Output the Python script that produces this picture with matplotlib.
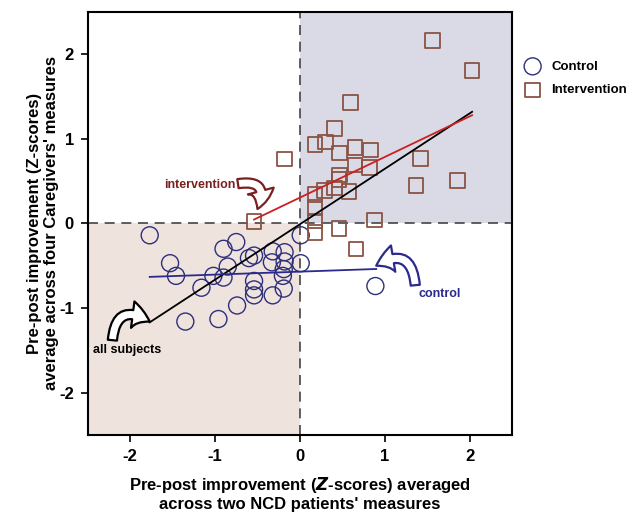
import numpy as np
import matplotlib.pyplot as plt
from matplotlib.patches import FancyArrowPatch

plt.rcParams['font.family'] = ['Liberation Sans', 'DejaVu Sans']
plt.rcParams['axes.unicode_minus'] = False

# Control group: x = NCD patients' improvement, y = caregivers' improvement
control_x = [-1.77, -1.53, -1.46, -0.90, -0.75, -0.85, -1.02, -0.90, -1.16, -0.60,
             -0.54, -0.32, -0.33, -0.18, -0.18, -0.19, -0.20, 0.01, 0.01, -0.54,
             -0.54, -0.54, -0.32, -0.19, -0.74, -0.96, -1.35, 0.89]
control_y = [-0.14, -0.47, -0.62, -0.30, -0.22, -0.51, -0.62, -0.64, -0.76, -0.41,
             -0.38, -0.33, -0.46, -0.34, -0.45, -0.54, -0.62, -0.47, -0.14, -0.68,
             -0.78, -0.85, -0.85, -0.77, -0.97, -1.13, -1.16, -0.74]

# Intervention group
interv_x = [1.56, 2.03, 0.60, 0.41, 0.18, 0.30, 0.47, 0.65, 0.83, 1.42,
            -0.18, 0.65, 0.82, 0.47, 0.46, 1.86, 1.37, 0.29, 0.41, 0.58,
            0.18, 0.18, 0.18, 0.18, -0.54, 0.88, 0.46, 0.66]
interv_y = [2.16, 1.81, 1.43, 1.12, 0.93, 0.96, 0.83, 0.90, 0.87, 0.77,
            0.76, 0.69, 0.66, 0.57, 0.52, 0.51, 0.45, 0.39, 0.42, 0.38,
            0.34, 0.19, 0.03, -0.11, 0.02, 0.04, -0.06, -0.30]

# fitted lines: (x start, x end, slope, intercept)
fit_all = (-1.77, 2.03, 0.655, -0.01)
fit_control = (-1.77, 0.90, 0.035, -0.57)
fit_interv = (-0.54, 2.03, 0.48, 0.305)

ticks = [-2, -1, 0, 1, 2]

fig = plt.figure(figsize=(6.36, 5.19), dpi=100)
ax = fig.add_axes([0.138, 0.162, 0.667, 0.815])
ax.set_xlim(-2.5, 2.5)
ax.set_ylim(-2.5, 2.5)

# shaded quadrants
ax.axvspan(-2.5, 0, ymin=0, ymax=0.5, color='#efe3de', zorder=0, lw=0)
ax.axvspan(0, 2.5, ymin=0.5, ymax=1, color='#dad9e6', zorder=0, lw=0)
ax.axhline(0, color='#444444', ls=(0, (6, 4)), lw=1.2, zorder=1)
ax.axvline(0, color='#444444', ls=(0, (6, 4)), lw=1.2, zorder=1)

ax.scatter(control_x, control_y, s=150, marker='o', facecolors='none',
           edgecolors='#2e2f7a', linewidths=1.0, zorder=3, label='Control')
ax.scatter(interv_x, interv_y, s=110, marker='s', facecolors='none',
           edgecolors='#8a5443', linewidths=1.3, zorder=3, label='Intervention')

for (x0, x1, m, b), c in [(fit_all, 'black'), (fit_control, '#2b2a8c'), (fit_interv, '#cc2020')]:
    xs = np.array([x0, x1])
    ax.plot(xs, m * xs + b, color=c, lw=1.3, zorder=4)

# hollow curved arrows with labels
def arrow(p0, p1, rad, color):
    a = FancyArrowPatch(p0, p1, connectionstyle=f'arc3,rad={rad}',
                        arrowstyle='simple,head_width=1.6,head_length=1.1,tail_width=0.55',
                        mutation_scale=12, facecolor='white', edgecolor=color,
                        lw=1.6, zorder=5, shrinkA=0, shrinkB=0)
    ax.add_patch(a)

arrow((-0.73, 0.47), (-0.50, 0.17), -0.9, '#7a2020')
ax.text(-0.76, 0.45, 'intervention', color='#7a2020', fontsize=9, fontweight='bold',
        ha='right', va='center', zorder=6)

arrow((1.36, -0.73), (0.90, -0.50), 0.8, '#2b2a8c')
ax.text(1.65, -0.83, 'control', color='#2b2a8c', fontsize=9, fontweight='bold',
        ha='center', va='center', zorder=6)

arrow((-2.21, -1.38), (-1.77, -1.16), -0.8, 'black')
ax.text(-2.04, -1.50, 'all subjects', color='black', fontsize=9, fontweight='bold',
        ha='center', va='center', zorder=6)

ax.set_xticks(ticks)
ax.set_yticks(ticks)
ax.tick_params(axis='both', direction='out', length=5, width=1.2, labelsize=12, pad=5,
               top=False, right=False)
for lab in ax.get_xticklabels() + ax.get_yticklabels():
    lab.set_fontweight('bold')
for s in ax.spines.values():
    s.set_linewidth(1.5)

ax.set_xlabel("Pre-post improvement ($\\mathbfit{Z}$-scores) averaged\nacross two NCD patients' measures",
              fontsize=12, fontweight='bold', labelpad=8)
ax.set_ylabel("Pre-post improvement (Z-scores)\naverage across four Caregivers' measures",
              fontsize=12, fontweight='bold', labelpad=0)

ax.legend(loc='upper left', bbox_to_anchor=(1.03, 0.885), frameon=False, borderpad=0,
          prop={'weight': 'bold', 'size': 9.5}, handlelength=1.2, handletextpad=0.8,
          labelspacing=0.85, borderaxespad=0)

fig.savefig('out.png', dpi=100)
